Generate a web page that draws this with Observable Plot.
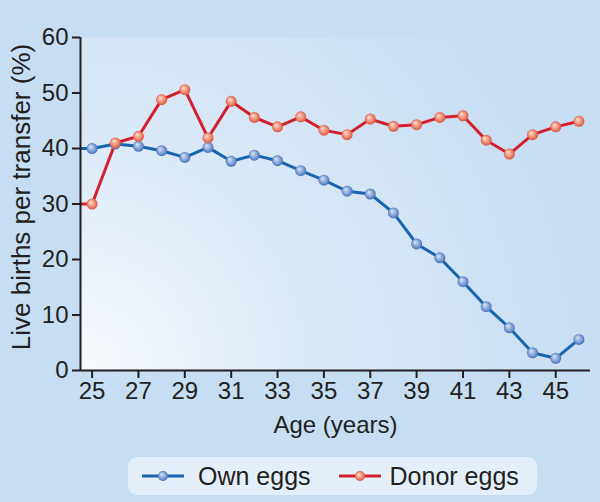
<!DOCTYPE html>
<html>
<head>
<meta charset="utf-8">
<script src="https://cdn.jsdelivr.net/npm/d3@7"></script>
<script src="https://cdn.jsdelivr.net/npm/@observablehq/plot@0.6"></script>
<style>
  html, body { margin: 0; padding: 0; background: #c7ddf2; }
  body { width: 600px; height: 502px; position: relative; overflow: hidden; font-family: "Liberation Sans", Arial, Helvetica, sans-serif; }
  #legend { position: absolute; left: 128px; top: 457px; width: 409px; height: 38px; border-radius: 9px; background: #e4eff9; display: flex; align-items: center; font-size: 25px; color: #231f20; }
  #legend .item { display: flex; align-items: center; }
  #legend svg { display: block; }
</style>
</head>
<body>
<div id="chart"></div>
<div id="legend"></div>
<script>
const ages = [25,26,27,28,29,30,31,32,33,34,35,36,37,38,39,40,41,42,43,44,45,46];
const ownEggs = [40.0,40.8,40.4,39.6,38.4,40.2,37.7,38.8,37.8,36.0,34.3,32.3,31.8,28.4,22.8,20.3,16.0,11.5,7.7,3.2,2.2,5.6];
const donorEggs = [30.0,41.0,42.2,48.8,50.6,41.9,48.5,45.6,43.9,45.7,43.3,42.5,45.3,44.0,44.3,45.6,45.9,41.5,39.0,42.5,43.9,44.9];
const xTicks = [25,27,29,31,33,35,37,39,41,43,45];
const yTicks = [0,10,20,30,40,50,60];
const xDomain = [24.5, 46.5];
const yDomain = [0, 60];
const seriesNames = ["Own eggs", "Donor eggs"];
const lineColors = ["#1765ad", "#d2202c"];

const ownData = ages.map((a, i) => ({age: a, value: ownEggs[i]}));
const donorData = ages.map((a, i) => ({age: a, value: donorEggs[i]}));
const starts = [
  {age: ages[0], value: ownEggs[0], c: 0},
  {age: ages[0], value: donorEggs[0], c: 1}
];

const ink = "#231f20";

const plot = Plot.plot({
  width: 600,
  height: 440,
  marginLeft: 80,
  marginRight: 10,
  marginTop: 37,
  marginBottom: 70,
  x: {domain: xDomain, axis: null},
  y: {domain: yDomain, axis: null},
  style: {background: "transparent", fontFamily: "Liberation Sans, Arial, Helvetica, sans-serif", fontSize: "24px", color: ink, overflow: "visible"},
  marks: [
    Plot.frame({fill: "url(#bgGrad)", stroke: "none"}),
    Plot.link(starts, {x1: xDomain[0], x2: "age", y1: "value", y2: "value", stroke: d => lineColors[d.c], strokeWidth: 3}),
    Plot.line(ownData, {x: "age", y: "value", stroke: lineColors[0], strokeWidth: 3}),
    Plot.line(donorData, {x: "age", y: "value", stroke: lineColors[1], strokeWidth: 3}),
    Plot.dot(ownData, {x: "age", y: "value", r: 5.5, fill: "url(#sphereBlue)", stroke: "none"}),
    Plot.dot(donorData, {x: "age", y: "value", r: 5.5, fill: "url(#sphereRed)", stroke: "none"}),
    Plot.ruleX([xDomain[0]], {y1: yDomain[0], y2: yDomain[1], stroke: ink, strokeWidth: 2}),
    Plot.ruleY([yDomain[0]], {x1: xDomain[0], x2: xDomain[1], stroke: ink, strokeWidth: 2}),
    Plot.axisY({ticks: yTicks, tickSize: 8, tickPadding: 4, label: null, fontSize: 24, stroke: ink, strokeWidth: 2, fill: ink}),
    Plot.axisX({ticks: xTicks, tickSize: 8, tickPadding: 3, label: null, fontSize: 24, stroke: ink, strokeWidth: 2, fill: ink}),
    Plot.text(["Age (years)"], {frameAnchor: "bottom", dy: 62, text: d => d, fontSize: 24, fill: ink}),
    Plot.text(["Live births per transfer (%)"], {frameAnchor: "left", textAnchor: "middle", dx: -59, dy: -7, rotate: -90, text: d => d, fontSize: 26, fill: ink})
  ]
});

const svg = d3.select(plot);
const defs = svg.insert("defs", ":first-child");
const bg = defs.append("radialGradient")
  .attr("id", "bgGrad").attr("gradientUnits", "userSpaceOnUse")
  .attr("cx", 80).attr("cy", 370).attr("r", 520);
bg.append("stop").attr("offset", "0").attr("stop-color", "#f7fafe");
bg.append("stop").attr("offset", "0.45").attr("stop-color", "#dbe9f7");
bg.append("stop").attr("offset", "1").attr("stop-color", "#c7ddf2");

function sphere(id, c0, c1, c2) {
  const g = defs.append("radialGradient").attr("id", id)
    .attr("cx", "0.5").attr("cy", "0.5").attr("r", "0.55")
    .attr("fx", "0.35").attr("fy", "0.32");
  g.append("stop").attr("offset", "0").attr("stop-color", c0);
  g.append("stop").attr("offset", "0.6").attr("stop-color", c1);
  g.append("stop").attr("offset", "1").attr("stop-color", c2);
}
sphere("sphereBlue", "#dfe8f7", "#7f9fd6", "#3d68b3");
sphere("sphereRed", "#fde3d6", "#ef8a70", "#d4473b");

document.getElementById("chart").appendChild(plot);

const legend = d3.select("#legend");
seriesNames.forEach((name, i) => {
  const item = legend.append("div").attr("class", "item")
    .style("margin-left", i === 0 ? "14px" : "28px");
  const s = item.append("svg").attr("width", 42).attr("height", 20);
  s.append("line").attr("x1", 0).attr("x2", 42).attr("y1", 10).attr("y2", 10)
    .attr("stroke", lineColors[i]).attr("stroke-width", 3);
  s.append("circle").attr("cx", 21).attr("cy", 10).attr("r", 5)
    .attr("fill", i === 0 ? "url(#sphereBlue)" : "url(#sphereRed)");
  item.append("span").style("margin-left", i === 0 ? "14px" : "9px").text(name);
});
</script>
</body>
</html>
